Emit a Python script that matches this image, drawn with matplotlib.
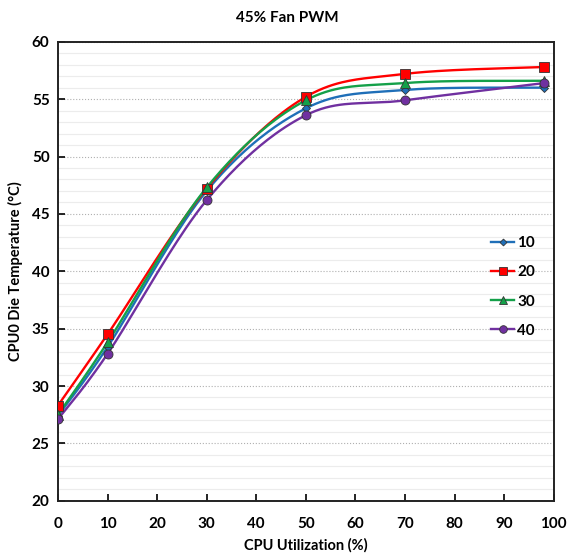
import numpy as np
import matplotlib.pyplot as plt
from matplotlib.ticker import MultipleLocator

# CPU utilisation steps and die temperature per series
util = [0, 10, 30, 50, 70, 98]
temp_10 = [27.4, 33.4, 47.0, 54.2, 55.8, 56.0]
temp_20 = [28.3, 34.5, 47.2, 55.2, 57.2, 57.8]
temp_30 = [27.5, 33.8, 47.3, 54.9, 56.4, 56.6]
temp_40 = [27.1, 32.8, 46.2, 53.6, 54.9, 56.4]
labels = ['10', '20', '30', '40']


def smooth(x, y, n=40):
  # spreadsheet-style smoothing: bezier segments with catmull-rom control points
  x = np.asarray(x, float) / 100.0
  y = np.asarray(y, float) / 40.0
  p = np.column_stack([x, y])
  out = []
  for i in range(len(p) - 1):
    p0 = p[i - 1] if i > 0 else p[i]
    p3 = p[i + 2] if i + 2 < len(p) else p[i + 1]
    c1 = p[i] + (p[i + 1] - p0) / 6.0
    c2 = p[i + 1] - (p3 - p[i]) / 6.0
    t = np.linspace(0, 1, n)[:, None]
    seg = ((1 - t) ** 3 * p[i] + 3 * (1 - t) ** 2 * t * c1
           + 3 * (1 - t) * t ** 2 * c2 + t ** 3 * p[i + 1])
    out.append(seg if i == 0 else seg[1:])
  out = np.vstack(out)
  return out[:, 0] * 100.0, out[:, 1] * 40.0


plt.rcParams['font.family'] = ['Lato', 'DejaVu Sans']
plt.rcParams['font.weight'] = 'bold'

fig = plt.figure(figsize=(5.68, 5.57), dpi=100)
ax = fig.add_axes([0.102, 0.101, 0.873, 0.824])

series = [
  (temp_10, '#1f6fb8', 'D', 4.5),
  (temp_20, '#ff0000', 's', 6.5),
  (temp_30, '#14a049', '^', 6.5),
  (temp_40, '#7030a0', 'o', 6.5),
]
for (vals, col, mk, ms), lab in zip(series, labels):
  sx, sy = smooth(util, vals)
  ax.plot(sx, sy, color=col, lw=1.7, zorder=3)
  ax.plot(util, vals, ls='none', marker=mk, ms=ms, color=col,
          mec='#333333', mew=0.6, zorder=4)
  ax.plot([], [], color=col, lw=1.7, marker=mk, ms=ms - 1,
          mec='#333333', mew=0.6, label=lab)

ax.set_xlim(0, 100)
ax.set_ylim(20, 60)
ax.xaxis.set_major_locator(MultipleLocator(10))
ax.yaxis.set_major_locator(MultipleLocator(5))
ax.yaxis.set_minor_locator(MultipleLocator(1))
ax.tick_params(which='major', direction='in', length=5, width=1.2,
               labelsize=11, pad=6)
ax.tick_params(which='minor', length=0)
ax.tick_params(axis='x', pad=12)
for lab in ax.get_xticklabels() + ax.get_yticklabels():
  lab.set_fontweight('bold')

ax.grid(axis='y', which='minor', color='#ececec', lw=0.8, ls='-')
ax.grid(axis='y', which='major', color='#b0b0b0', lw=0.8, ls=':')
ax.set_axisbelow(True)
for s in ax.spines.values():
  s.set_linewidth(1.4)
  s.set_color('#222222')

ax.set_xlabel('CPU Utilization (%)', fontsize=10.5, fontweight='bold',
              labelpad=5)
ax.set_ylabel('CPU0 Die Temperature (°C)', fontsize=10.5, fontweight='bold',
              labelpad=6)
fig.text(0.505, 0.968, '45% Fan PWM', ha='center', va='center',
         fontsize=11, fontweight='bold')

ax.legend(loc='center right', bbox_to_anchor=(0.99, 0.466), frameon=False,
          handlelength=1.5, handletextpad=0.2, labelspacing=1.0,
          prop={'weight': 'bold', 'size': 11})

fig.savefig('out.png', dpi=100)
